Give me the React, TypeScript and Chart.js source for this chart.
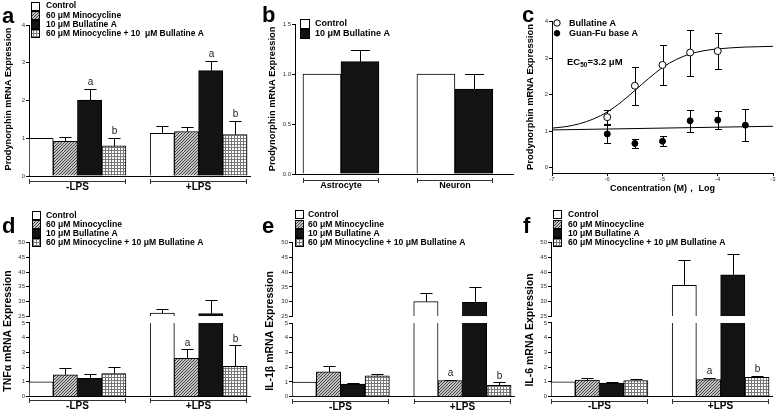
import React, { useEffect, useRef } from 'react';
import { Chart, registerables } from 'chart.js';

Chart.register(...registerables);

const FONT = "'Liberation Sans', Arial, Helvetica, sans-serif";

// ---------- shared labels ----------
const LPS_GROUPS = ['-LPS', '+LPS'];
const TREATMENTS = ['Control', '60 μM Minocycline', '10 μM Bullatine A', '60 μM Minocycline + 10 μM Bullatine A'];
const TREATMENTS_A = ['Control', '60 μM Minocycline', '10 μM Bullatine A', '60 μM Minocycline + 10  μM Bullatine A'];
const TREATMENT_FILLS = ['white', 'diag', 'black', 'grid'];

// ---------- panel a : Prodynorphin, microglia ----------
const A_CONTROL = [1.0, 1.13];
const A_CONTROL_ERR = [0, 0.2];
const A_MINO = [0.92, 1.18];
const A_MINO_ERR = [0.1, 0.13];
const A_BULL = [2.01, 2.79];
const A_BULL_ERR = [0.29, 0.26];
const A_COMBO = [0.8, 1.1];
const A_COMBO_ERR = [0.21, 0.37];
const A_BULL_SIG = ['a', 'a'];
const A_COMBO_SIG = ['b', 'b'];
const A_Y_TITLE = 'Prodynorphin mRNA Expression';

// ---------- panel b : astrocyte / neuron ----------
const B_GROUPS = ['Astrocyte', 'Neuron'];
const B_SERIES = ['Control', '10 μM Bullatine A'];
const B_FILLS = ['white', 'black'];
const B_CONTROL = [1.0, 1.0];
const B_CONTROL_ERR = [0, 0];
const B_BULL = [1.123, 0.85];
const B_BULL_ERR = [0.117, 0.15];

// ---------- panel c : concentration response ----------
const C_SERIES = ['Bullatine A', 'Guan-Fu base A'];
const C_BULL_LOGC = [-6, -5.5, -5, -4.5, -4];
const C_BULL = [1.38, 2.24, 2.81, 3.15, 3.19];
const C_BULL_ERR = [0.2, 0.52, 0.55, 0.63, 0.49];
const C_GUAN_LOGC = [-6, -5.5, -5, -4.5, -4, -3.5];
const C_GUAN = [0.92, 0.66, 0.72, 1.28, 1.3, 1.16];
const C_GUAN_ERR = [0.24, 0.13, 0.13, 0.3, 0.24, 0.43];
const C_BULL_FIT_LOGC = [-7, -6.75, -6.5, -6.25, -6, -5.75, -5.5, -5.25, -5, -4.75, -4.5, -4.25, -4, -3.75, -3.5, -3.25, -3];
const C_BULL_FIT = [1.08, 1.12, 1.2, 1.33, 1.52, 1.79, 2.11, 2.44, 2.74, 2.96, 3.11, 3.2, 3.25, 3.28, 3.3, 3.31, 3.32];
const C_GUAN_FIT_LOGC = [-7, -3];
const C_GUAN_FIT = [1.03, 1.13];
const C_X_TITLE = 'Concentration (M)， Log';
const C_EC50 = ['EC', '50', '=3.2 μM'];

// ---------- panel d : TNFα ----------
const D_CONTROL = [1.0, 26.1];
const D_CONTROL_ERR = [0, 1.2];
const D_MINO = [1.48, 2.6];
const D_MINO_ERR = [0.44, 0.6];
const D_BULL = [1.23, 25.9];
const D_BULL_ERR = [0.3, 4.5];
const D_COMBO = [1.55, 2.05];
const D_COMBO_ERR = [0.45, 1.42];
const D_MINO_SIG = ['', 'a'];
const D_COMBO_SIG = ['', 'b'];
const D_Y_TITLE = 'TNFα mRNA Expression';

// ---------- panel e : IL-1β ----------
const E_CONTROL = [1.0, 30.0];
const E_CONTROL_ERR = [0, 3.0];
const E_MINO = [1.68, 1.1];
const E_MINO_ERR = [0.42, 0.06];
const E_BULL = [0.85, 29.8];
const E_BULL_ERR = [0.07, 5.3];
const E_COMBO = [1.42, 0.78];
const E_COMBO_ERR = [0.1, 0.2];
const E_MINO_SIG = ['', 'a'];
const E_COMBO_SIG = ['', 'b'];
const E_Y_TITLE = 'IL-1β mRNA Expression';

// ---------- panel f : IL-6 ----------
const F_CONTROL = [1.0, 35.5];
const F_CONTROL_ERR = [0, 8.5];
const F_MINO = [1.12, 1.15];
const F_MINO_ERR = [0.15, 0.12];
const F_BULL = [0.92, 39.1];
const F_BULL_ERR = [0.08, 6.9];
const F_COMBO = [1.08, 1.3];
const F_COMBO_ERR = [0.13, 0.12];
const F_MINO_SIG = ['', 'a'];
const F_COMBO_SIG = ['', 'b'];
const F_Y_TITLE = 'IL-6 mRNA Expression';

// ---------- fills ----------
let FILL_CACHE: any = null;
function makePattern(kind: string) {
  const n = 3;
  const c = document.createElement('canvas');
  c.width = n;
  c.height = n;
  const g = c.getContext('2d')!;
  const img = g.createImageData(n, n);
  for (let y = 0; y < n; y++) {
    for (let x = 0; x < n; x++) {
      let v: number;
      if (kind === 'diag') v = (x + y) % n === n - 1 ? 70 : 195;
      else v = x % n === 0 || y % n === 0 ? 120 : 252;
      const k = (y * n + x) * 4;
      img.data[k] = v;
      img.data[k + 1] = v;
      img.data[k + 2] = v;
      img.data[k + 3] = 255;
    }
  }
  g.putImageData(img, 0, 0);
  return g.createPattern(c, 'repeat');
}
function getFills() {
  if (!FILL_CACHE) {
    FILL_CACHE = { white: '#ffffff', black: '#131313', diag: makePattern('diag'), grid: makePattern('grid') };
  }
  return FILL_CACHE;
}

const tickFont = { family: FONT, size: 6 };

function drawRotated(ctx: CanvasRenderingContext2D, text: string, x: number, y: number, size: number) {
  ctx.save();
  ctx.translate(x, y);
  ctx.rotate(-Math.PI / 2);
  ctx.font = `bold ${size}px ${FONT}`;
  ctx.textAlign = 'center';
  ctx.textBaseline = 'middle';
  ctx.fillStyle = '#000';
  ctx.fillText(text, 0, 0);
  ctx.restore();
}

// ---------- bar panels ----------
type SeriesSpec = { label: string; fill: string; values: number[]; errors: number[]; sig?: string[] };
type BarSpec = {
  box: { left: number; top: number; width: number; height: number };
  area: { l: number; t: number; r: number; b: number };
  groups: string[];
  slots: number;
  xMin: number;
  xMax: number;
  series: SeriesSpec[];
  y: { min: number; max: number; step: number; decimals?: number };
  hi?: { min: number; max: number; step: number; gapPx: number };
  letter: { text: string; x: number; y: number };
  yTitle: { text: string; x: number; y: number; size: number };
  legend: { x: number; size: number; textX: number; rows: number[]; font: number };
  groupFont: number;
  bracketDy: number;
  labelDy: number;
};

function fourSeries(labels: string[], vals: number[][], errs: number[][], sigs: (string[] | undefined)[]): SeriesSpec[] {
  return labels.map((label, i) => ({ label, fill: TREATMENT_FILLS[i], values: vals[i], errors: errs[i], sig: sigs[i] }));
}

const SPEC_A: BarSpec = {
  box: { left: 0, top: 0, width: 260, height: 200 },
  area: { l: 29, t: 25, r: 250, b: 176 },
  groups: LPS_GROUPS,
  slots: 5,
  xMin: -0.5,
  xMax: 8.62,
  series: fourSeries(TREATMENTS_A, [A_CONTROL, A_MINO, A_BULL, A_COMBO], [A_CONTROL_ERR, A_MINO_ERR, A_BULL_ERR, A_COMBO_ERR], [undefined, undefined, A_BULL_SIG, A_COMBO_SIG]),
  y: { min: 0, max: 4, step: 1 },
  letter: { text: 'a', x: 2, y: 23 },
  yTitle: { text: A_Y_TITLE, x: 8, y: 99, size: 9.2 },
  legend: { x: 31, size: 8, textX: 46, rows: [5.5, 14.8, 24, 33.3], font: 8.5 },
  groupFont: 10,
  bracketDy: 5,
  labelDy: 11,
};

const SPEC_B: BarSpec = {
  box: { left: 260, top: 0, width: 260, height: 200 },
  area: { l: 295, t: 24, r: 513, b: 174 },
  groups: B_GROUPS,
  slots: 3,
  xMin: -0.71,
  xMax: 5.03,
  series: B_SERIES.map((label, i) => ({ label, fill: B_FILLS[i], values: [B_CONTROL, B_BULL][i], errors: [B_CONTROL_ERR, B_BULL_ERR][i] })),
  y: { min: 0, max: 1.5, step: 0.5, decimals: 1 },
  letter: { text: 'b', x: 262, y: 21.7 },
  yTitle: { text: A_Y_TITLE, x: 272, y: 99, size: 9.3 },
  legend: { x: 300, size: 9, textX: 315, rows: [23.3, 33.3], font: 9 },
  groupFont: 9,
  bracketDy: 6,
  labelDy: 11.5,
};

const HI_SEG = { min: 25, max: 50, step: 5, gapPx: 6.7 };
const LO_SEG = { min: 0, max: 5, step: 1 };

const SPEC_D: BarSpec = {
  box: { left: 0, top: 200, width: 260, height: 213 },
  area: { l: 29, t: 242.7, r: 250, b: 396.5 },
  groups: LPS_GROUPS,
  slots: 5,
  xMin: -0.5,
  xMax: 8.62,
  series: fourSeries(TREATMENTS, [D_CONTROL, D_MINO, D_BULL, D_COMBO], [D_CONTROL_ERR, D_MINO_ERR, D_BULL_ERR, D_COMBO_ERR], [undefined, D_MINO_SIG, undefined, D_COMBO_SIG]),
  y: LO_SEG,
  hi: HI_SEG,
  letter: { text: 'd', x: 2, y: 233 },
  yTitle: { text: D_Y_TITLE, x: 8, y: 331, size: 10.5 },
  legend: { x: 32, size: 8, textX: 46, rows: [215, 224, 233, 242], font: 8.6 },
  groupFont: 10,
  bracketDy: 3,
  labelDy: 9.5,
};

const SPEC_E: BarSpec = {
  box: { left: 260, top: 200, width: 260, height: 213 },
  area: { l: 292, t: 242.7, r: 514, b: 396.7 },
  groups: LPS_GROUPS,
  slots: 5,
  xMin: -0.5,
  xMax: 8.62,
  series: fourSeries(TREATMENTS, [E_CONTROL, E_MINO, E_BULL, E_COMBO], [E_CONTROL_ERR, E_MINO_ERR, E_BULL_ERR, E_COMBO_ERR], [undefined, E_MINO_SIG, undefined, E_COMBO_SIG]),
  y: LO_SEG,
  hi: HI_SEG,
  letter: { text: 'e', x: 262, y: 233 },
  yTitle: { text: E_Y_TITLE, x: 270, y: 331, size: 10.5 },
  legend: { x: 295, size: 8, textX: 308, rows: [214, 224, 233, 242], font: 8.6 },
  groupFont: 10,
  bracketDy: 4.5,
  labelDy: 10.5,
};

const SPEC_F: BarSpec = {
  box: { left: 520, top: 200, width: 258, height: 213 },
  area: { l: 551, t: 242.7, r: 772, b: 396.5 },
  groups: LPS_GROUPS,
  slots: 5,
  xMin: -0.5,
  xMax: 8.62,
  series: fourSeries(TREATMENTS, [F_CONTROL, F_MINO, F_BULL, F_COMBO], [F_CONTROL_ERR, F_MINO_ERR, F_BULL_ERR, F_COMBO_ERR], [undefined, F_MINO_SIG, undefined, F_COMBO_SIG]),
  y: LO_SEG,
  hi: HI_SEG,
  letter: { text: 'f', x: 523, y: 233 },
  yTitle: { text: F_Y_TITLE, x: 530, y: 330, size: 10.5 },
  legend: { x: 553, size: 8, textX: 568, rows: [214, 224, 233, 242], font: 8.6 },
  groupFont: 10,
  bracketDy: 4,
  labelDy: 10,
};

function yAxis(spec: BarSpec, seg: { min: number; max: number; step: number; decimals?: number }, extra: any) {
  const { box, area } = spec;
  return {
    type: 'linear',
    position: 'left',
    min: seg.min,
    max: seg.max,
    ticks: {
      stepSize: seg.step,
      includeBounds: false,
      autoSkip: false,
      font: tickFont,
      color: '#333',
      padding: 1,
      callback: (v: any) => (seg.decimals ? Number(v).toFixed(seg.decimals) : String(v)),
    },
    grid: { display: true, drawOnChartArea: false, drawTicks: true, tickLength: 3, color: '#000', lineWidth: 1 },
    border: { display: true, color: '#000', width: 1 },
    afterFit: (s: any) => {
      s.width = area.l - box.left;
    },
    ...extra,
  };
}

function buildBarChart(canvas: HTMLCanvasElement, spec: BarSpec) {
  const fills = getFills();
  const { box, area, hi } = spec;
  const slot = (g: number, s: number) => g * spec.slots + s;
  const datasets: any[] = [];
  spec.series.forEach((s, si) => {
    datasets.push({
      label: s.label,
      yAxisID: 'y',
      data: s.values.map((v, g) => ({ x: slot(g, si), y: hi ? [0, Math.min(v, spec.y.max)] : v })),
      backgroundColor: fills[s.fill],
      borderColor: '#000',
      borderSkipped: false,
      borderWidth: (c: any) => ({ left: 1, right: 1, bottom: 0, top: hi && s.values[c.dataIndex] > spec.y.max ? 0 : 1 }),
    });
    if (hi) {
      const data = s.values
        .map((v, g) => ({ x: slot(g, si), v }))
        .filter((p) => p.v > hi.min)
        .map((p) => ({ x: p.x, y: [hi.min, p.v] }));
      if (data.length) {
        datasets.push({
          label: s.label + ' (upper segment)',
          yAxisID: 'yHi',
          data,
          backgroundColor: fills[s.fill],
          borderColor: '#000',
          borderSkipped: false,
          borderWidth: { left: 1, right: 1, top: 1, bottom: 0 },
        });
      }
    }
  });

  const scales: any = {
    x: {
      type: 'linear',
      min: spec.xMin,
      max: spec.xMax,
      offset: false,
      ticks: { display: false, stepSize: 1, includeBounds: false },
      grid: { display: false, offset: false },
      border: { display: true, color: '#000', width: 1 },
      afterFit: (s: any) => {
        s.height = box.top + box.height - area.b;
      },
    },
  };
  if (hi) {
    const h = area.b - area.t;
    const segPx = (h - hi.gapPx) / 2;
    scales.y = yAxis(spec, spec.y, { stack: 'left', stackWeight: segPx, weight: 1 });
    scales.yGap = {
      type: 'linear',
      position: 'left',
      min: 0,
      max: 1,
      stack: 'left',
      stackWeight: hi.gapPx,
      weight: 2,
      ticks: { display: false },
      grid: { display: false },
      border: { display: false },
      afterFit: (s: any) => {
        s.width = area.l - box.left;
      },
    };
    scales.yHi = yAxis(spec, hi, { stack: 'left', stackWeight: segPx, weight: 3 });
  } else {
    scales.y = yAxis(spec, spec.y, {});
  }

  const decor = {
    id: 'barDecor',
    afterDraw(chart: any) {
      const ctx: CanvasRenderingContext2D = chart.ctx;
      const ox = box.left;
      const oy = box.top;
      const xs = chart.scales.x;
      const unit = Math.abs(xs.getPixelForValue(1) - xs.getPixelForValue(0));
      ctx.save();
      ctx.lineWidth = 1;
      ctx.strokeStyle = '#000';
      ctx.fillStyle = '#000';
      // error bars + significance marks
      spec.series.forEach((s, si) => {
        s.values.forEach((v, g) => {
          const e = s.errors[g];
          const ys = hi && v > hi.min ? chart.scales.yHi : chart.scales.y;
          const x = Math.round(xs.getPixelForValue(slot(g, si))) + 0.5;
          const yTop = ys.getPixelForValue(v + e);
          if (e > 0) {
            const y0 = ys.getPixelForValue(v);
            const yy = Math.round(yTop) + 0.5;
            ctx.beginPath();
            ctx.moveTo(x, y0);
            ctx.lineTo(x, yy);
            ctx.moveTo(x - unit * 0.25, yy);
            ctx.lineTo(x + unit * 0.25, yy);
            ctx.stroke();
          }
          const mark = s.sig ? s.sig[g] : '';
          if (mark) {
            ctx.font = `10px ${FONT}`;
            ctx.textAlign = 'center';
            ctx.textBaseline = 'bottom';
            ctx.fillStyle = '#222';
            ctx.fillText(mark, x, yTop - 1.5);
          }
        });
      });
      // group brackets under the axis
      const yb = Math.round(area.b - oy + spec.bracketDy) + 0.5;
      ctx.strokeStyle = '#333';
      spec.groups.forEach((name, g) => {
        const x0 = Math.round(xs.getPixelForValue(slot(g, 0) - 0.5)) + 0.5;
        const x1 = Math.round(xs.getPixelForValue(slot(g, spec.series.length - 1) + 0.5)) - 0.5;
        ctx.beginPath();
        ctx.moveTo(x0, yb);
        ctx.lineTo(x1, yb);
        ctx.moveTo(x0, yb - 2.5);
        ctx.lineTo(x0, yb + 2.5);
        ctx.moveTo(x1, yb - 2.5);
        ctx.lineTo(x1, yb + 2.5);
        ctx.stroke();
        ctx.font = `bold ${spec.groupFont}px ${FONT}`;
        ctx.textAlign = 'center';
        ctx.textBaseline = 'middle';
        ctx.fillStyle = '#000';
        ctx.fillText(name, (x0 + x1) / 2, area.b - oy + spec.labelDy);
      });
      // legend
      const lg = spec.legend;
      ctx.strokeStyle = '#000';
      ctx.font = `bold ${lg.font}px ${FONT}`;
      ctx.textAlign = 'left';
      ctx.textBaseline = 'middle';
      spec.series.forEach((s, si) => {
        const cy = lg.rows[si] - oy;
        const rx = Math.round(lg.x - ox) + 0.5;
        const ry = Math.round(cy - lg.size / 2) + 0.5;
        ctx.fillStyle = fills[s.fill];
        ctx.fillRect(rx, ry, lg.size, lg.size);
        ctx.strokeRect(rx, ry, lg.size, lg.size);
        ctx.fillStyle = '#000';
        ctx.fillText(s.label, lg.textX - ox, cy + 0.5);
      });
      // panel letter
      ctx.font = `bold 22px ${FONT}`;
      ctx.textAlign = 'left';
      ctx.textBaseline = 'alphabetic';
      ctx.fillText(spec.letter.text, spec.letter.x - ox, spec.letter.y - oy);
      // y title
      drawRotated(ctx, spec.yTitle.text, spec.yTitle.x - ox, spec.yTitle.y - oy, spec.yTitle.size);
      ctx.restore();
    },
  };

  return new Chart(canvas, {
    type: 'bar',
    data: { datasets },
    options: {
      responsive: false,
      animation: false,
      grouped: false,
      barPercentage: 1,
      categoryPercentage: 1,
      layout: { padding: { left: 0, top: area.t - box.top, right: box.left + box.width - area.r, bottom: 0 } },
      plugins: { legend: { display: false }, tooltip: { enabled: false } },
      scales,
    } as any,
    plugins: [decor],
  } as any);
}

// ---------- panel c ----------
const C_BOX = { left: 520, top: 0, width: 258, height: 200 };
const C_AREA = { l: 552, t: 21.5, r: 774, b: 173 };

function buildDoseChart(canvas: HTMLCanvasElement) {
  const box = C_BOX;
  const area = C_AREA;
  const errorSets = [
    { x: C_BULL_LOGC, y: C_BULL, e: C_BULL_ERR },
    { x: C_GUAN_LOGC, y: C_GUAN, e: C_GUAN_ERR },
  ];
  const decor = {
    id: 'doseDecor',
    beforeDatasetsDraw(chart: any) {
      const ctx: CanvasRenderingContext2D = chart.ctx;
      const xs = chart.scales.x;
      const ys = chart.scales.y;
      ctx.save();
      ctx.strokeStyle = '#000';
      ctx.lineWidth = 1;
      errorSets.forEach((set) => {
        set.x.forEach((xv, i) => {
          const x = Math.round(xs.getPixelForValue(xv)) + 0.5;
          const y0 = Math.round(ys.getPixelForValue(set.y[i] - set.e[i])) + 0.5;
          const y1 = Math.round(ys.getPixelForValue(set.y[i] + set.e[i])) + 0.5;
          ctx.beginPath();
          ctx.moveTo(x, y0);
          ctx.lineTo(x, y1);
          ctx.moveTo(x - 3.5, y0);
          ctx.lineTo(x + 3.5, y0);
          ctx.moveTo(x - 3.5, y1);
          ctx.lineTo(x + 3.5, y1);
          ctx.stroke();
        });
      });
      ctx.restore();
    },
    afterDraw(chart: any) {
      const ctx: CanvasRenderingContext2D = chart.ctx;
      const ox = box.left;
      const oy = box.top;
      ctx.save();
      // legend
      const rows = [23, 33.3];
      ctx.font = `bold 9px ${FONT}`;
      ctx.textAlign = 'left';
      ctx.textBaseline = 'middle';
      C_SERIES.forEach((label, i) => {
        const cx = 557 - ox;
        const cy = rows[i] - oy;
        ctx.beginPath();
        ctx.arc(cx, cy, i === 0 ? 3.2 : 2.8, 0, Math.PI * 2);
        ctx.fillStyle = i === 0 ? '#fff' : '#000';
        ctx.fill();
        ctx.strokeStyle = '#000';
        ctx.lineWidth = 1;
        ctx.stroke();
        ctx.fillStyle = '#000';
        ctx.fillText(label, 569 - ox, cy + 0.5);
      });
      // EC50 annotation
      ctx.textBaseline = 'alphabetic';
      let x = 567 - ox;
      const yb = 64.5 - oy;
      ctx.font = `bold 9.5px ${FONT}`;
      ctx.fillText(C_EC50[0], x, yb);
      x += ctx.measureText(C_EC50[0]).width;
      ctx.font = `bold 6.5px ${FONT}`;
      ctx.fillText(C_EC50[1], x, yb + 2.5);
      x += ctx.measureText(C_EC50[1]).width;
      ctx.font = `bold 9.5px ${FONT}`;
      ctx.fillText(C_EC50[2], x, yb);
      // panel letter
      ctx.font = `bold 22px ${FONT}`;
      ctx.fillText('c', 522 - ox, 21.7 - oy);
      drawRotated(ctx, A_Y_TITLE, 530 - ox, 97 - oy, 9.4);
      ctx.restore();
    },
  };
  return new Chart(canvas, {
    type: 'scatter',
    data: {
      datasets: [
        {
          label: C_SERIES[0],
          data: C_BULL_LOGC.map((x, i) => ({ x, y: C_BULL[i] })),
          pointRadius: 3.5,
          pointBackgroundColor: '#fff',
          pointBorderColor: '#000',
          pointBorderWidth: 1,
          showLine: false,
        },
        {
          label: C_SERIES[1],
          data: C_GUAN_LOGC.map((x, i) => ({ x, y: C_GUAN[i] })),
          pointRadius: 3,
          pointBackgroundColor: '#000',
          pointBorderColor: '#000',
          pointBorderWidth: 1,
          showLine: false,
        },
        {
          label: C_SERIES[0] + ' fit',
          data: C_BULL_FIT_LOGC.map((x, i) => ({ x, y: C_BULL_FIT[i] })),
          showLine: true,
          pointRadius: 0,
          borderColor: '#000',
          borderWidth: 1,
          cubicInterpolationMode: 'monotone',
        },
        {
          label: C_SERIES[1] + ' fit',
          data: C_GUAN_FIT_LOGC.map((x, i) => ({ x, y: C_GUAN_FIT[i] })),
          showLine: true,
          pointRadius: 0,
          borderColor: '#000',
          borderWidth: 1,
        },
      ],
    },
    options: {
      responsive: false,
      animation: false,
      layout: { padding: { left: 0, top: area.t - box.top, right: box.left + box.width - area.r, bottom: 0 } },
      plugins: { legend: { display: false }, tooltip: { enabled: false } },
      scales: {
        x: {
          type: 'linear',
          min: -7,
          max: -3,
          ticks: { stepSize: 1, autoSkip: false, font: tickFont, color: '#333', padding: 0, maxRotation: 0 },
          grid: { drawOnChartArea: false, drawTicks: true, tickLength: 3, color: '#000' },
          border: { display: true, color: '#000', width: 1 },
          title: {
            display: true,
            text: C_X_TITLE,
            font: { family: FONT, size: 9, weight: 'bold' },
            color: '#000',
            padding: { top: 0, bottom: 6.5 },
          },
          afterFit: (s: any) => {
            s.height = box.top + box.height - area.b;
          },
        },
        y: {
          type: 'linear',
          min: -0.15,
          max: 4,
          ticks: { stepSize: 1, includeBounds: false, autoSkip: false, font: tickFont, color: '#333', padding: 1 },
          grid: { drawOnChartArea: false, drawTicks: true, tickLength: 3, color: '#000' },
          border: { display: true, color: '#000', width: 1 },
          afterFit: (s: any) => {
            s.width = area.l - box.left;
          },
        },
      },
    } as any,
    plugins: [decor],
  } as any);
}

// ---------- components ----------
function ChartCanvas({ box, build }: { box: { left: number; top: number; width: number; height: number }; build: (c: HTMLCanvasElement) => any }) {
  const ref = useRef<HTMLCanvasElement>(null);
  useEffect(() => {
    const chart = build(ref.current!);
    return () => chart.destroy();
  }, [build]);
  return (
    <canvas
      ref={ref}
      width={box.width}
      height={box.height}
      style={{ position: 'absolute', left: box.left, top: box.top, width: box.width, height: box.height }}
    />
  );
}

const buildA = (c: HTMLCanvasElement) => buildBarChart(c, SPEC_A);
const buildB = (c: HTMLCanvasElement) => buildBarChart(c, SPEC_B);
const buildD = (c: HTMLCanvasElement) => buildBarChart(c, SPEC_D);
const buildE = (c: HTMLCanvasElement) => buildBarChart(c, SPEC_E);
const buildF = (c: HTMLCanvasElement) => buildBarChart(c, SPEC_F);

export default function App() {
  return (
    <div style={{ position: 'fixed', left: 0, top: 0, width: 778, height: 413, background: '#fff', overflow: 'hidden' }}>
      <ChartCanvas box={SPEC_A.box} build={buildA} />
      <ChartCanvas box={SPEC_B.box} build={buildB} />
      <ChartCanvas box={C_BOX} build={buildDoseChart} />
      <ChartCanvas box={SPEC_D.box} build={buildD} />
      <ChartCanvas box={SPEC_E.box} build={buildE} />
      <ChartCanvas box={SPEC_F.box} build={buildF} />
    </div>
  );
}
